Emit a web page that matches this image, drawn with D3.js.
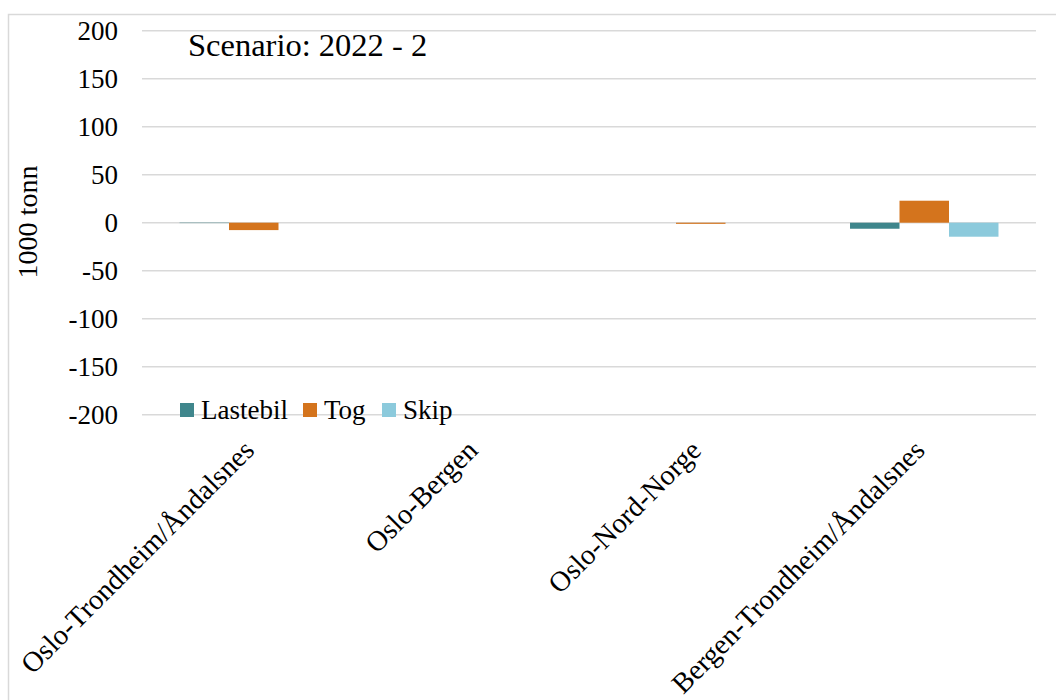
<!DOCTYPE html>
<html><head><meta charset="utf-8">
<script src="https://cdn.jsdelivr.net/npm/d3@7"></script>
<style>
body{margin:0;background:#fff;}
svg{display:block;}
svg text{font-family:"Liberation Serif","DejaVu Serif",serif;}
</style></head>
<body>
<svg id="c" width="1056" height="700"></svg>
<script>
const categories = ["Oslo-Trondheim/Åndalsnes","Oslo-Bergen","Oslo-Nord-Norge","Bergen-Trondheim/Åndalsnes"];
const seriesNames = ["Lastebil","Tog","Skip"];
const lastebil = [-0.4, 0, 0, -6.3];
const tog = [-7.7, 0, -1.2, 22.9];
const skip = [0, 0, 0, -14.6];
const yTicks = [-200,-150,-100,-50,0,50,100,150,200];
const colors = ["#3f868c","#d4741d","#8ccadc"];
const title = "Scenario: 2022 - 2";
const yLabel = "1000 tonn";

const series = [lastebil, tog, skip];
const svg = d3.select("#c");
const pLeft = 142, pRight = 1036, pTop = 30.7, pBottom = 414.7;
const FF = "Liberation Serif";

svg.append("rect").attr("x",8.5).attr("y",14.5).attr("width",1060).attr("height",700)
  .attr("fill","none").attr("stroke","#d9d9d9").attr("stroke-width",1.5);

const y = d3.scaleLinear().domain([-200,200]).range([pBottom, pTop]);
const x0 = d3.scaleBand().domain(categories).range([pLeft,pRight]).paddingInner(0.3357).paddingOuter(0.16785);
const x1 = d3.scaleBand().domain(seriesNames).range([0, x0.bandwidth()]);

// gridlines
svg.append("g").selectAll("line").data(yTicks).join("line")
  .attr("x1",pLeft).attr("x2",pRight)
  .attr("y1",d=>y(d)).attr("y2",d=>y(d))
  .attr("stroke","#d9d9d9").attr("stroke-width",1.5);

// y axis labels
const yAxis = d3.axisLeft(y).tickValues(yTicks).tickSize(0).tickPadding(0).tickFormat(d=>String(d));
const ga = svg.append("g").attr("transform","translate(118,0)").call(yAxis);
ga.attr("font-family",FF);
ga.select(".domain").remove();
ga.selectAll("text").attr("font-size",27).attr("font-family",FF).attr("fill","#000").attr("dy","0.33em");

// bars
const groups = svg.append("g").selectAll("g").data(categories).join("g")
  .attr("transform",d=>`translate(${x0(d)},0)`);
groups.selectAll("rect").data((d,i)=>seriesNames.map((s,j)=>({s, v: series[j][i], j})))
  .join("rect")
  .attr("x",d=>x1(d.s)).attr("width",x1.bandwidth())
  .attr("y",d=>y(Math.max(0,d.v))).attr("height",d=>Math.abs(y(d.v)-y(0)))
  .attr("fill",d=>colors[d.j]);

// x labels
svg.append("g").selectAll("text").data(categories).join("text")
  .attr("transform",d=>`translate(${x0(d)+x0.bandwidth()/2+2},452) rotate(-45)`)
  .attr("text-anchor","end").attr("font-size",28.5).attr("font-family",FF).attr("fill","#000").text(d=>d);

// title
svg.append("text").attr("x",188).attr("y",56).attr("font-size",32.5).attr("font-family",FF).attr("fill","#000").text(title);

// y label
svg.append("text").attr("transform","translate(37,222) rotate(-90)").attr("text-anchor","middle")
  .attr("font-size",28).attr("font-family",FF).attr("fill","#000").text(yLabel);

// legend
const legX = [180, 303, 382];
const lg = svg.append("g").selectAll("g").data(seriesNames).join("g")
  .attr("transform",(d,i)=>`translate(${legX[i]},403)`);
lg.append("rect").attr("width",14).attr("height",14).attr("fill",(d,i)=>colors[i]);
lg.append("text").attr("x",21).attr("y",16).attr("font-size",27).attr("font-family",FF).attr("fill","#000").text(d=>d);
</script>
</body></html>
